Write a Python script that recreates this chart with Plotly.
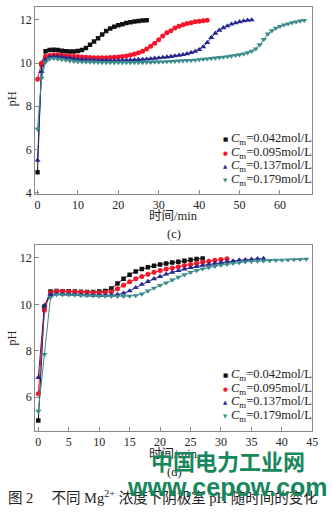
import plotly.graph_objects as go

W, H = 332, 521

# ---------------- data: panel (c) ----------------
ph_c_042 = [4.95, 9.95, 10.55, 10.6, 10.62, 10.6, 10.57, 10.55, 10.54, 10.54, 10.56, 10.6,
            10.7, 10.85, 11.0, 11.15, 11.32, 11.48, 11.6, 11.68, 11.75, 11.8, 11.85, 11.89,
            11.92, 11.95, 11.97, 11.98]
ph_c_095 = [9.25, 10.0, 10.3, 10.35, 10.38, 10.38, 10.36, 10.34, 10.32, 10.3, 10.3, 10.28,
            10.27, 10.26, 10.25, 10.25, 10.25, 10.25, 10.26, 10.27, 10.28, 10.3, 10.33, 10.37,
            10.42, 10.48, 10.55, 10.65, 10.78, 10.92, 11.08, 11.25, 11.4, 11.5, 11.62, 11.7,
            11.77, 11.83, 11.87, 11.91, 11.94, 11.96, 11.98]
ph_c_137 = [5.5, 9.6, 10.15, 10.28, 10.3, 10.3, 10.28, 10.25, 10.22, 10.2, 10.18, 10.16,
            10.15, 10.14, 10.13, 10.12, 10.12, 10.12, 10.12, 10.12, 10.12, 10.13, 10.13, 10.14,
            10.15, 10.16, 10.17, 10.18, 10.2, 10.22, 10.24, 10.26, 10.28, 10.3, 10.33, 10.36,
            10.39, 10.43, 10.48, 10.54, 10.62, 10.75, 10.95, 11.18, 11.38, 11.52, 11.63, 11.72,
            11.8, 11.86, 11.91, 11.95, 11.98, 12.0]
ph_c_179 = [6.95, 9.3, 10.05, 10.2, 10.22, 10.2, 10.17, 10.14, 10.11, 10.09, 10.07, 10.06,
            10.05, 10.05, 10.04, 10.04, 10.03, 10.03, 10.03, 10.03, 10.03, 10.03, 10.03, 10.03,
            10.03, 10.03, 10.03, 10.04, 10.04, 10.05, 10.05, 10.06, 10.07, 10.08, 10.09, 10.1,
            10.11, 10.12, 10.13, 10.14, 10.16, 10.18, 10.2, 10.22, 10.24, 10.26, 10.28, 10.3,
            10.33, 10.36, 10.39, 10.43, 10.48, 10.55, 10.66, 10.85, 11.1, 11.35, 11.5, 11.62,
            11.7, 11.77, 11.82, 11.87, 11.91, 11.95, 11.98]

# ---------------- data: panel (d) ----------------
ph_d_042 = [5.0, 9.9, 10.55, 10.58, 10.57, 10.56, 10.55, 10.54, 10.53, 10.53, 10.55, 10.58,
            10.68, 10.9, 11.1, 11.28, 11.42, 11.52, 11.6, 11.66, 11.72, 11.76, 11.8, 11.84,
            11.88, 11.92, 11.95, 11.98]
ph_d_095 = [6.15, 9.75, 10.5, 10.55, 10.55, 10.54, 10.53, 10.52, 10.51, 10.5, 10.5, 10.51,
            10.54, 10.67, 10.82, 10.97, 11.1, 11.2, 11.3, 11.38, 11.46, 11.52, 11.57, 11.62,
            11.67, 11.72, 11.77, 11.82, 11.86, 11.9, 11.93, 11.96]
ph_d_137 = [6.85, 9.95, 10.42, 10.45, 10.44, 10.43, 10.42, 10.41, 10.4, 10.39, 10.38, 10.38,
            10.39, 10.42, 10.48, 10.58, 10.72, 10.86, 10.98, 11.1, 11.2, 11.3, 11.38, 11.45,
            11.52, 11.58, 11.63, 11.68, 11.72, 11.76, 11.8, 11.84, 11.87, 11.9, 11.92, 11.94,
            11.96, 11.97]
ph_d_179 = [5.4, 7.85, 10.3, 10.42, 10.42, 10.41, 10.4, 10.39, 10.38, 10.37, 10.36, 10.36,
            10.35, 10.35, 10.35, 10.36, 10.38, 10.45, 10.58, 10.7, 10.82, 10.93, 11.05, 11.17,
            11.28, 11.38, 11.46, 11.53, 11.59, 11.64, 11.69, 11.73, 11.77, 11.8, 11.83, 11.85,
            11.87, 11.88, 11.89, 11.9, 11.91, 11.92, 11.93, 11.94, 11.95]

series_labels = ["0.042", "0.095", "0.137", "0.179"]
colors = ["#111111", "#f5162a", "#27288f", "#3b8b8c"]
symbols = ["square", "circle", "triangle-up", "triangle-down"]
msizes = [4.5, 5, 5.5, 5.5]
glyphs = ["■", "●", "▲", "▼"]

panel_c = [ph_c_042, ph_c_095, ph_c_137, ph_c_179]
panel_d = [ph_d_042, ph_d_095, ph_d_137, ph_d_179]

c_xticks = [0, 10, 20, 30, 40, 50, 60]
c_yticks = [4, 6, 8, 10, 12]
d_xticks = [0, 5, 10, 15, 20, 25, 30, 35, 40, 45]
d_yticks = [6, 8, 10, 12]

SERIF = "Liberation Serif, Times New Roman, serif"
CJK = "Liberation Serif, Noto Sans CJK SC, serif"

fig = go.Figure()

for panel, (xa, ya) in ((panel_c, ("x", "y")), (panel_d, ("x2", "y2"))):
    for i, ph in enumerate(panel):
        fig.add_trace(go.Scatter(
            x=list(range(len(ph))), y=ph, xaxis=xa, yaxis=ya,
            mode="lines+markers",
            line=dict(color=colors[i], width=1),
            marker=dict(symbol=symbols[i], size=msizes[i], color=colors[i], line=dict(width=0)),
            name="Cm=" + series_labels[i] + "mol/L", showlegend=False,
        ))

def px2x(px):
    return px / W

def py2y(py):
    return 1 - py / H

axis_common = dict(
    ticks="inside", ticklen=4, tickwidth=1, tickcolor="#888888",
    showline=True, linecolor="#8a8a8a", linewidth=1, mirror=True,
    showgrid=False, zeroline=False,
    tickfont=dict(family=SERIF, size=12, color="#222222"),
)

fig.update_layout(
    width=W, height=H,
    margin=dict(l=0, r=0, t=0, b=0),
    paper_bgcolor="white", plot_bgcolor="white",
    showlegend=False,
    xaxis=dict(domain=[px2x(35), px2x(318)], anchor="y", range=[-0.55, 68],
               tickvals=c_xticks, **axis_common),
    yaxis=dict(domain=[py2y(196), py2y(7)], anchor="x", range=[3.95, 12.6],
               tickvals=c_yticks, **axis_common),
    xaxis2=dict(domain=[px2x(35), px2x(318)], anchor="y2", range=[-0.5, 45],
                tickvals=d_xticks, **axis_common),
    yaxis2=dict(domain=[py2y(436), py2y(248)], anchor="x2", range=[4.55, 12.55],
                tickvals=d_yticks, **axis_common),
)

ann = []

def text(px, py, s, size=12, family=SERIF, color="#222222", xanchor="center",
         yanchor="middle", angle=0):
    ann.append(dict(
        x=px2x(px), y=py2y(py), xref="paper", yref="paper", text=s, showarrow=False,
        xanchor=xanchor, yanchor=yanchor, textangle=angle,
        font=dict(size=size, family=family, color=color),
    ))

# axis titles and panel labels
text(11, 100, "pH", size=12.5, angle=-90)
text(11, 342, "pH", size=12.5, angle=-90)
text(176, 219, "时间/min", size=12.5, family=CJK)
text(177, 237, "(c)", size=12.5)
text(176, 459, "时间/min", size=12.5, family=CJK)
text(177, 477, "(d)", size=12.5)

# legends
for rows in ([140.7, 154.3, 168.0, 181.8], [379.8, 393.4, 407.1, 420.8]):
    for i, ry in enumerate(rows):
        text(229, ry, glyphs[i], size=5.5, family="DejaVu Sans", color=colors[i])
        text(233, ry, "<i>C</i><sub>m</sub>=" + series_labels[i] + "mol/L",
             size=12.5, xanchor="left")

# figure caption
text(165, 503, "图 2　 不同 Mg<sup>2+</sup> 浓度下阴极室 pH 随时间的变化", size=14.5, family=CJK)

# watermark
text(232, 465, "<b>中国电力工业网</b>", size=22, family="Noto Sans CJK SC", color="#17875c")
text(231, 493, "<b>www.cepow.com</b>", size=25, family="Liberation Sans", color="#17875c")

fig.update_layout(annotations=ann)

fig.write_html("out.html")
